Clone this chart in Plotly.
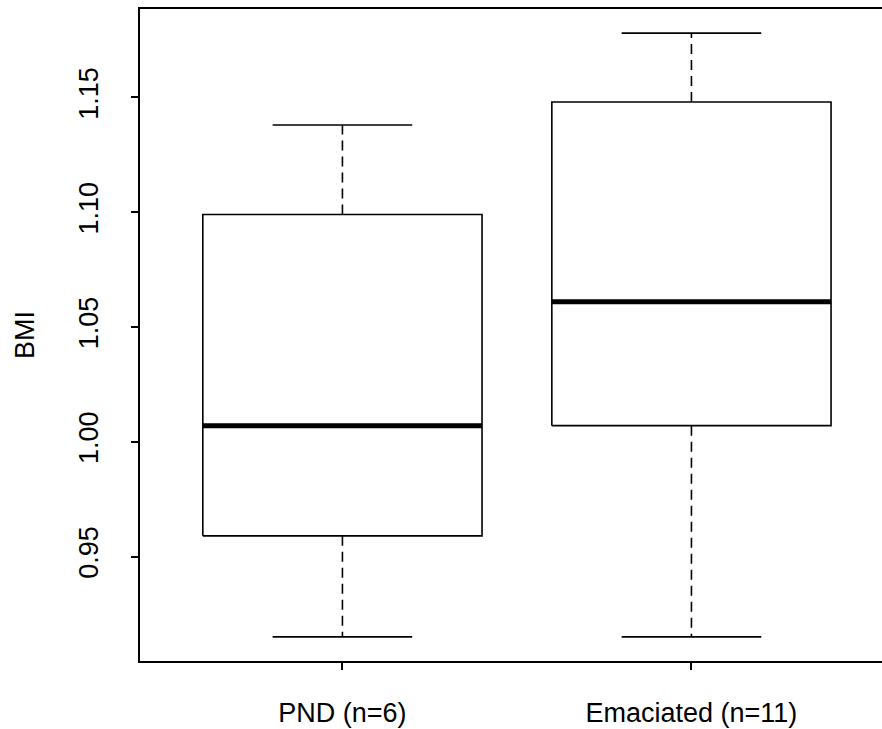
import plotly.graph_objects as go

# ---- data ----
groups = ["PND (n=6)", "Emaciated (n=11)"]
lower_whisker = [0.915, 0.915]
q1 = [0.959, 1.007]
median = [1.007, 1.061]
q3 = [1.099, 1.148]
upper_whisker = [1.138, 1.178]
y_ticks = [0.95, 1.00, 1.05, 1.10, 1.15]
y_label = "BMI"

# ---- styles ----
BOX_HALF = 0.4
CAP_HALF = 0.2
FONT = "Liberation Sans, Arial, sans-serif"
FS = 27
LW = 1.6

fig = go.Figure()
positions = list(range(1, len(groups) + 1))

for i, pos in enumerate(positions):
    # box
    fig.add_trace(go.Scatter(
        x=[pos - BOX_HALF, pos + BOX_HALF, pos + BOX_HALF, pos - BOX_HALF, pos - BOX_HALF],
        y=[q1[i], q1[i], q3[i], q3[i], q1[i]],
        mode="lines", line=dict(color="black", width=LW),
        fill="toself", fillcolor="white", hoverinfo="skip", showlegend=False))
    # whiskers (dashed)
    fig.add_trace(go.Scatter(
        x=[pos, pos, None, pos, pos],
        y=[q3[i], upper_whisker[i], None, q1[i], lower_whisker[i]],
        mode="lines", line=dict(color="black", width=LW, dash="10px,6px"),
        hoverinfo="skip", showlegend=False))
    # caps
    fig.add_trace(go.Scatter(
        x=[pos - CAP_HALF, pos + CAP_HALF, None, pos - CAP_HALF, pos + CAP_HALF],
        y=[upper_whisker[i], upper_whisker[i], None, lower_whisker[i], lower_whisker[i]],
        mode="lines", line=dict(color="black", width=LW),
        hoverinfo="skip", showlegend=False))
    # median
    fig.add_trace(go.Scatter(
        x=[pos - BOX_HALF, pos + BOX_HALF],
        y=[median[i], median[i]],
        mode="lines", line=dict(color="black", width=5),
        hoverinfo="skip", showlegend=False))

all_vals = lower_whisker + upper_whisker
lo, hi = min(all_vals), max(all_vals)
ext = (hi - lo) * 0.04

fig.update_layout(
    width=882, height=729,
    margin=dict(l=140, r=0, t=9, b=68),
    paper_bgcolor="white", plot_bgcolor="white",
    font=dict(family=FONT, size=FS, color="black"),
    xaxis=dict(
        range=[0.42, 2.546],
        tickvals=positions, ticktext=groups,
        showgrid=False, zeroline=False,
        showline=True, linecolor="black", linewidth=LW, mirror=True,
        ticks="outside", ticklen=7, tickwidth=LW, tickcolor="black",
        ticklabelstandoff=20,
        tickfont=dict(family=FONT, size=FS, color="black"),
    ),
    yaxis=dict(
        range=[lo - ext, hi + ext],
        tickvals=y_ticks, tickformat=".2f",
        showgrid=False, zeroline=False,
        showline=True, linecolor="black", linewidth=LW, mirror=False,
        ticks="outside", ticklen=7, tickwidth=LW, tickcolor="black",
        tickangle=-90,
        ticklabelstandoff=22,
        tickfont=dict(family=FONT, size=FS, color="black"),
        title=dict(text=y_label, standoff=32, font=dict(family=FONT, size=FS, color="black")),
    ),
)

fig.write_html("out.html")
